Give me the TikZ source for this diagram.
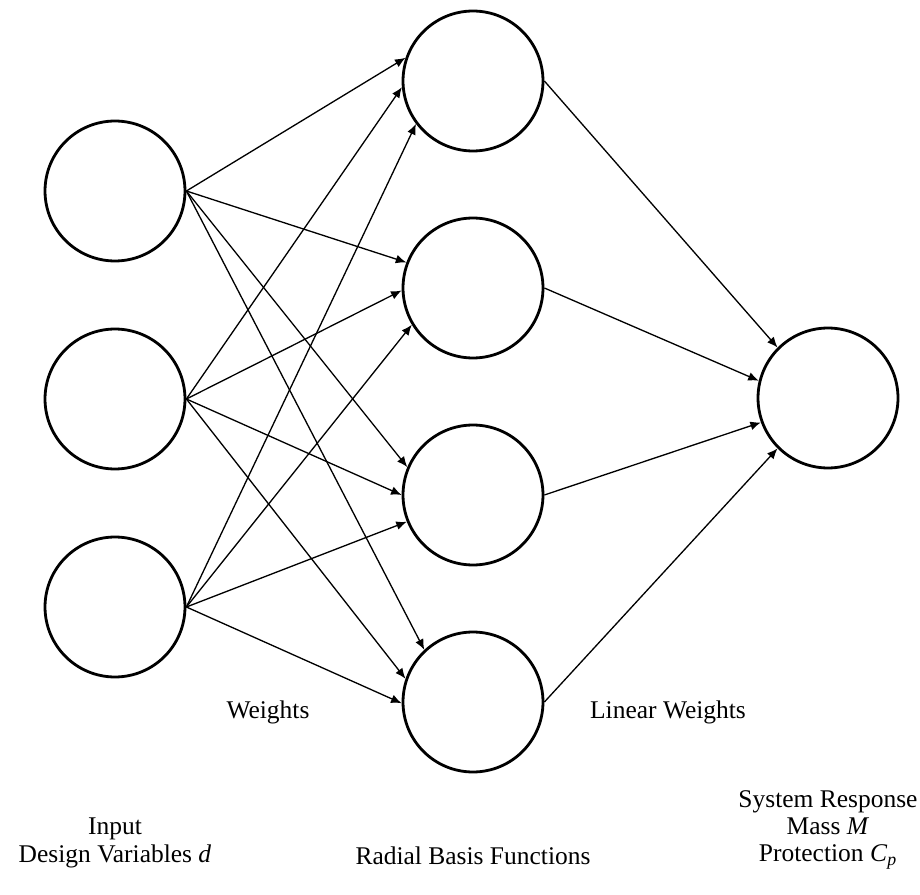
\documentclass[tikz,border=0pt]{standalone}
\usepackage{fontspec}
\setmainfont{Liberation Serif}
\usetikzlibrary{arrows.meta}

\tikzset{
  neuron/.style={circle,draw,line width=1.6pt,minimum size=2.8cm,inner sep=0pt},
  wire/.style={line width=0.75pt,-{Latex[length=6pt,width=5pt]}},
  lbl/.style={font=\fontsize{14.5}{15.5}\selectfont,align=center,inner sep=0pt}
}

\begin{document}
\begin{tikzpicture}[x=0.02cm,y=-0.02cm]
                \useasboundingbox (0,0) rectangle (920,895);
                \node[neuron] (in1) at (115,191) {};
                \node[neuron] (in2) at (115,399) {};
                \node[neuron] (in3) at (115,607) {};
                \node[neuron] (rb1) at (473,81) {};
                \node[neuron] (rb2) at (473,288) {};
                \node[neuron] (rb3) at (473,495) {};
                \node[neuron] (rb4) at (473,702) {};
                \node[neuron] (out) at (828,398) {};
                \foreach \s/\t/\a in {1/1/161,1/2/159,1/3/157,1/4/133,
                                      2/1/185,2/2/182,2/3/180,2/4/161,
                                      3/1/217,3/2/211,3/3/202,3/4/181}
                  \draw[wire] (in\s.east) -- (rb\t.\a);
                \foreach \t/\a in {1/135,2/166,3/200,4/225}
                  \draw[wire] (rb\t.east) -- (out.\a);
                \node[lbl] (wts) at (268,712) {Weights};
                \node[lbl] (linwts) at (668,712) {Linear Weights};
                \node[lbl] (inlbl) at (115,843) {Input\\Design Variables \textit{d}};
                \node[lbl] (rbflbl) at (473,856) {Radial Basis Functions};
                \node[lbl] (outlbl) at (828,830) {System Response\\Mass \textit{M}\\Protection \textit{C}\textsubscript{\textit{p}}};
\end{tikzpicture}
\end{document}
